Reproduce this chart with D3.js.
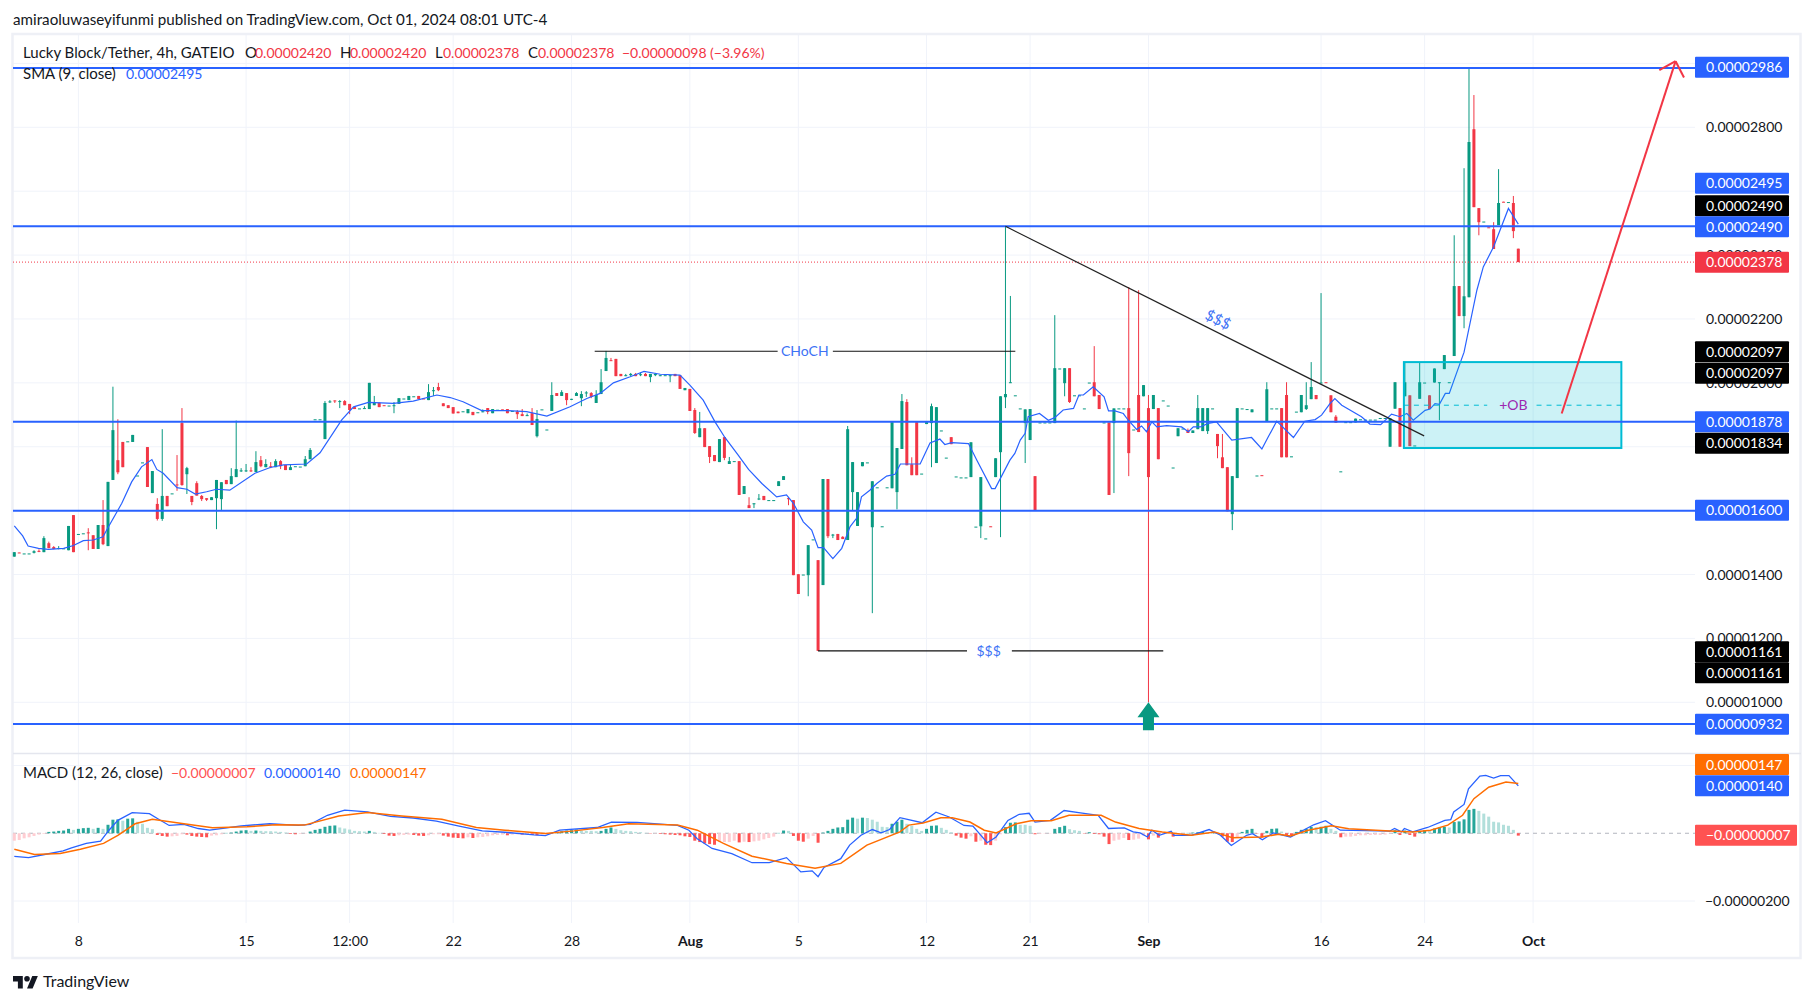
<!DOCTYPE html>
<html><head><meta charset="utf-8">
<script src="https://cdn.jsdelivr.net/npm/d3@7"></script>
<style>
html,body{margin:0;padding:0;background:#fff;overflow:hidden}
svg{display:block}
text{font-family:"Lato","Open Sans",sans-serif}
</style></head><body><svg id="c" width="1814" height="1003"></svg>
<script>
// ---- data: prices in units of 0.00000001, each row [open, high, low, close]
const barsJuly=[
[1456,1470,1456,1470],[1469,1469,1468,1468],[1466,1466,1466,1466],[1466,1466,1466,1466],[1468,1476,1466,1473],[1474,1479,1470,1471],[1470,1520,1470,1514],[1498,1503,1482,1483],[1486,1489,1479,1480],[1481,1489,1479,1483],
[1482,1482,1482,1482],[1476,1552,1476,1552],[1586,1586,1470,1470],[1527,1527,1527,1527],[1529,1529,1529,1529],[1532,1545,1476,1530],[1523,1523,1480,1480],[1480,1555,1480,1555],[1555,1633,1492,1495],[1489,1690,1489,1690],
[1696,1988,1696,1852],[1758,1886,1714,1720],[1815,1815,1736,1736],[1817,1817,1817,1817],[1815,1837,1815,1837],[1710,1710,1710,1710],[1751,1751,1751,1751],[1799,1799,1674,1674],[1655,1724,1655,1724],[1621,1639,1569,1574],
[1574,1855,1568,1646],[1646,1646,1614,1614],[1654,1654,1654,1654],[1682,1774,1662,1680],[1874,1921,1678,1680],[1714,1737,1652,1733],[1646,1646,1617,1627],[1686,1692,1647,1647],[1646,1649,1630,1636],[1639,1639,1630,1634],
[1633,1642,1633,1642],[1639,1696,1542,1696],[1636,1689,1602,1689],[1696,1696,1683,1683],[1683,1733,1683,1708],[1705,1882,1705,1730],[1724,1733,1721,1726],[1724,1746,1721,1726],[1726,1736,1721,1724],[1721,1786,1721,1752],
[1758,1771,1736,1739],[1736,1761,1736,1746],[1739,1752,1733,1737],[1736,1761,1736,1755],[1755,1758,1730,1739],[1743,1743,1727,1727],[1727,1746,1727,1736],[1739,1739,1739,1739],[1738,1738,1738,1738],[1739,1771,1739,1761],
[1761,1796,1761,1790],[1886,1886,1886,1886],[1886,1886,1886,1886],[1824,1943,1824,1937],[1940,1946,1937,1942],[1945,1945,1937,1943],[1941,1946,1921,1943],[1943,1946,1930,1930],[1934,1934,1902,1915],[1924,1927,1918,1918],
[1920,1920,1920,1920],[1919,1927,1919,1921],[1918,2000,1918,2000],[1930,1959,1930,1940],[1938,1938,1924,1924],[1930,1930,1929,1929],[1929,1929,1929,1929],[1928,1940,1905,1930],[1934,1952,1934,1952],[1951,1951,1951,1951],
[1946,1959,1946,1959],[1958,1958,1958,1958],[1959,1959,1949,1949],[1951,1951,1950,1950],[1946,1996,1946,1971],[1974,1987,1959,1977],[1987,2000,1974,1977],[1936,1936,1927,1927],[1930,1930,1921,1921],[1924,1924,1904,1904],
[1910,1910,1905,1905],[1911,1911,1911,1911],[1905,1918,1905,1918],[1909,1909,1899,1899],[1908,1908,1908,1908],[1908,1917,1908,1911],[1921,1921,1902,1909],[1905,1918,1905,1918],[1916,1916,1916,1916],[1917,1917,1916,1916],
[1918,1918,1905,1905],[1912,1912,1912,1912],[1910,1915,1887,1902],[1902,1918,1896,1896],[1896,1904,1896,1899],[1905,1921,1868,1868],[1833,1915,1829,1887],[1917,1917,1917,1917],[1854,1854,1854,1854],[1912,2002,1912,1962],
[1968,1968,1959,1959],[1959,1977,1959,1971],[1968,1968,1930,1946],[1950,1950,1946,1950],[1959,1971,1959,1968],[1952,1974,1927,1965],[1968,1974,1956,1970],[1968,1971,1952,1956],[1937,1977,1937,1962],[1965,2043,1965,2002],
[2037,2100,2037,2078],[2071,2078,2069,2069],[2075,2075,2021,2021],[2028,2028,2021,2021],[2021,2028,2021,2024],[2024,2031,2021,2028],[2028,2031,2021,2021],[2024,2033,2021,2027],[2028,2031,2021,2021],[2018,2028,2002,2028],
[2024,2031,2021,2028],[2021,2024,2021,2024],[2024,2024,2024,2024],[2021,2024,2002,2024],[2028,2028,2021,2021],[2024,2024,1981,1981],[1977,1984,1977,1984]];
const barsAugust=[
[1981,1981,1912,1912],[1915,1921,1840,1843],[1830,1909,1830,1858],[1858,1858,1799,1799],[1802,1802,1749,1768],[1774,1774,1755,1755],[1752,1824,1752,1824],[1830,1830,1758,1765],[1746,1768,1746,1755],[1755,1755,1755,1755],
[1755,1755,1649,1649],[1652,1677,1652,1677],[1617,1642,1608,1608],[1623,1623,1608,1623],[1635,1652,1633,1638],[1646,1646,1633,1633],[1633,1633,1633,1633],[1633,1633,1633,1633],[1677,1692,1677,1692],[1696,1708,1696,1708],
[1639,1642,1617,1636],[1633,1633,1398,1398],[1401,1401,1339,1339],[1400,1400,1400,1400],[1398,1492,1332,1492],[1510,1510,1510,1510],[1445,1445,1161,1161],[1367,1699,1367,1699],[1699,1699,1514,1520],[1522,1527,1514,1525],
[1527,1527,1508,1508],[1518,1520,1511,1511],[1508,1865,1508,1855],[1658,1752,1602,1752],[1552,1658,1552,1658],[1739,1752,1739,1752],[1751,1751,1751,1751],[1548,1692,1279,1692],[1673,1673,1673,1673],[1551,1551,1551,1551],
[1673,1673,1673,1673],[1670,1877,1670,1877],[1658,1796,1604,1796],[1793,1965,1793,1943],[1940,1949,1742,1742],[1745,1767,1711,1711],[1877,1877,1711,1711],[1716,1716,1716,1716],[1871,1877,1871,1877],[1874,1935,1736,1927],
[1749,1924,1749,1924],[1851,1851,1851,1851],[1766,1766,1766,1766],[1830,1830,1808,1808],[1707,1707,1707,1707],[1704,1704,1704,1704],[1704,1704,1704,1704],[1705,1814,1705,1814],[1550,1550,1550,1550],[1551,1705,1514,1705],
[1513,1513,1513,1513],[1551,1551,1550,1550],[1705,1764,1705,1764],[1783,1958,1517,1958],[1955,2490,1921,1965],[2000,2272,2000,2002],[1961,1961,1961,1961],[1920,1920,1920,1920],[1874,1917,1749,1917],[1821,1918,1821,1918],
[1708,1708,1599,1599],[1876,1876,1876,1876],[1876,1876,1876,1876],[1876,1876,1876,1876],[1874,2212,1874,2046],[2045,2045,2045,2045],[1999,2046,1958,2046],[2046,2046,1937,1940],[1961,1961,1961,1961],[1961,1961,1961,1961],
[1920,1920,1920,1920],[2001,2001,2001,2001],[2002,2115,1958,1958],[1962,1962,1918,1918],[1876,1876,1876,1876],[1876,1876,1649,1649],[1874,1920,1655,1920],[1920,1920,1920,1920],[1920,1920,1920,1920],[1921,2300,1708,1780],
[1854,1854,1854,1854],[1962,2290,1846,1846],[1958,1993,1958,1993]];
const barsSeptember=[
[1921,1962,1000,1705],[1918,1962,1918,1962],[1921,1921,1761,1761],[1945,1945,1945,1945],[1929,1929,1929,1929],[1735,1735,1735,1735],[1833,1858,1833,1858],[1857,1857,1857,1857],[1852,1857,1843,1843],[1843,1851,1843,1851],
[1855,1962,1855,1921],[1849,1921,1849,1921],[1849,1921,1840,1921],[1920,1920,1920,1920],[1840,1840,1764,1802],[1767,1840,1733,1733],[1736,1736,1598,1598],[1589,1708,1539,1708],[1702,1921,1702,1921],[1920,1920,1920,1920],
[1918,1918,1918,1918],[1908,1917,1908,1917],[1710,1710,1710,1710],[1711,1711,1710,1710],[1878,2002,1878,1980],[1920,1920,1920,1920],[1920,1920,1920,1920],[1921,1921,1767,1767],[1962,2002,1767,1767],[1770,1770,1770,1770],
[1910,1910,1910,1910],[1908,1962,1908,1962],[1918,2002,1915,1930],[1949,2065,1949,1987],[1962,1962,1949,1949],[1999,2281,1999,2001],[2002,2002,2001,2001],[1961,1961,1908,1908],[1894,1899,1875,1875],[1723,1723,1723,1723],
[1877,1877,1877,1877],[1877,1877,1877,1877],[1876,1888,1876,1888],[1886,1886,1886,1886],[1885,1885,1885,1885],[1885,1885,1885,1885],[1885,1885,1885,1885],[1890,1890,1890,1890],[1890,1890,1890,1890],[1800,1889,1800,1889],
[1919,2002,1919,2002],[1921,1921,1800,1800],[1958,2065,1958,2002],[1961,1961,1802,1802],[1804,1804,1804,1804],[1950,2065,1950,2002],[2001,2001,2001,2001],[1961,1961,1918,1918],[2001,2045,2001,2045],[2000,2002,1883,2002],
[2043,2087,2043,2087],[2002,2002,2002,2002],[2084,2462,2084,2303],[2303,2303,2209,2209],[2209,2672,2171,2271],[2268,2985,2268,2754],[2794,2901,2550,2550],[2547,2547,2462,2503],[2505,2505,2505,2505],[2487,2487,2486,2486],
[2481,2503,2419,2419],[2494,2669,2494,2563],[2567,2567,2566,2566],[2566,2566,2566,2566],[2563,2585,2453,2475],[2420,2420,2378,2378]];

// SMA(9): [bar position, value]
const smaJuly=[[0,1552],[1.7,1521],[2.8,1489],[4.9,1482],[6.9,1479],[10,1482],[12,1491],[14,1506],[16,1508],[18,1518],[18.9,1544],[21.8,1623],[23.8,1690],[25.8,1737],[27.9,1760],[28.9,1729],[30.2,1717],[33,1672],[35,1667],[36.7,1652],[39,1659],[41,1667],[43.7,1664],[48.8,1717],[51.9,1735],[54.6,1743],[59.3,1746],[62,1781],[66.4,1884],[68.8,1925],[71.8,1939],[76.9,1936],[80.9,1943],[85.7,1962],[88.4,1954],[91,1941],[94.8,1913],[99.9,1913],[103.9,1910],[108,1896],[112.7,1925],[116.1,1951],[118.8,1967],[121.5,2000],[124.9,2019],[127.7,2036],[131,2027],[135,2024]];
const smaAugust=[[137,1993],[139.7,1946],[142.1,1878],[144.1,1829],[146.8,1774],[148.9,1729],[151.6,1685],[154.6,1643],[156.6,1649],[158,1623],[160,1565],[161.7,1539],[163,1484],[164.1,1484],[166,1450],[167.8,1482],[169.5,1550],[170.8,1576],[171.8,1643],[173.5,1664],[174.9,1685],[176.9,1708],[178.6,1714],[179.7,1746],[183.7,1746],[185.7,1812],[187.7,1824],[188.7,1807],[190.1,1813],[193.5,1810],[195.2,1758],[198.2,1669],[198.9,1669],[201.9,1758],[202.9,1779],[204,1821],[205,1842],[205.6,1894],[207.9,1904],[209.7,1883],[211,1891],[212.7,1915],[214.8,1920],[215.9,1962],[216.8,1962],[218.8,1988],[221,1956],[221.9,1912],[223.2,1912],[224.9,1904],[225.9,1883],[227.6,1854],[228.6,1865]];
const smaSeptember=[[229.6,1847],[230.7,1878],[231.7,1862],[233.7,1866],[236.7,1862],[238.1,1847],[239.1,1862],[240.5,1862],[242.1,1873],[243.8,1878],[246.9,1821],[250.9,1829],[253,1793],[254.3,1831],[256,1880],[259.4,1829],[261.7,1880],[263.8,1885],[265.1,1899],[266.8,1935],[267.8,1951],[269.2,1930],[273.2,1894],[274.9,1871],[277.1,1869],[279.3,1902],[281,1894],[282.4,1904],[283.7,1883],[286.1,1914],[287.1,1918],[288.1,1935],[289,1933],[290.2,1967],[291,1967],[294,2096],[296.6,2290],[297.9,2363],[300,2426],[303,2546],[305,2497]];

// MACD line and signal line: [bar position, value]
const macdLine=[[0,-68],[2.9,-72],[6.4,-62],[9.9,-52],[11.6,-43],[14.6,-30],[17.5,-23],[19.2,9],[21,38],[23.9,61],[27.4,58],[29.1,43],[31.4,23],[34.4,26],[37.3,14],[39.6,9],[43.1,16],[46,22],[51.8,28],[57.6,23],[60,26],[63.5,53],[67,68],[71.6,63],[76.3,50],[80.9,45],[85.6,36],[90.2,21],[94.9,7],[99.5,3],[105.4,-5],[107.7,-7],[110.6,9],[118.2,17],[121.1,33],[126.3,32],[134.5,23],[136.8,9],[138.5,-16],[141.5,-45],[145.5,-60],[149.6,-87],[153.1,-87],[156.6,-72],[159.5,-114],[161.8,-111],[163,-128],[164.2,-101],[167.6,-75],[169.4,-35],[171.7,-6],[174,11],[175.8,1],[177.5,11],[179.6,46],[184.1,31],[186.9,62],[189.6,48],[192.6,23],[194.4,21],[197.3,-28],[199.1,-11],[201.5,38],[203.8,56],[205.8,59],[207,33],[210.1,38],[212.9,67],[216.2,60],[219.8,53],[221.9,14],[225.1,16],[226.9,4],[228.3,1],[229.8,-11],[230.7,9],[232.2,-6],[234.6,6],[235.2,-6],[238.7,-6],[242.3,11],[244.6,-6],[246.8,-36],[249.9,-6],[251.1,-1],[253.1,-19],[255.3,1],[258.8,-11],[263.5,25],[265.9,37],[268.9,9],[278.9,6],[279.9,14],[281.3,4],[281.9,14],[283.6,4],[286.6,17],[290.1,38],[291.3,40],[291.9,63],[294,85],[294.9,131],[297.2,169],[298.4,171],[300,163],[301.4,170],[303.1,170],[305,140]];
const signalLine=[[0,-47],[4.1,-63],[9.3,-60],[13.4,-47],[18.1,-30],[21,-6],[24.5,28],[28,41],[34.4,28],[40.2,16],[47.2,19],[53,25],[58.8,24],[65.8,51],[71.6,61],[78.6,51],[86.7,41],[93.7,17],[99.5,9],[107.7,-1],[113.5,7],[119.3,17],[124.6,28],[134.5,24],[138.5,9],[143.8,-30],[149.6,-68],[156.6,-89],[162.4,-103],[167.6,-89],[172.9,-35],[179.6,4],[181.4,24],[184.3,30],[187.9,46],[190.2,46],[193.8,33],[196.7,9],[199.1,1],[203.2,28],[206.2,37],[210.3,37],[213.9,53],[220.4,53],[223.3,33],[228.1,14],[232.8,4],[238.7,-6],[243.4,4],[247,-13],[252.9,-11],[256.4,-3],[258.8,-8],[262.4,9],[267.1,22],[270.6,13],[278.9,7],[283.6,4],[287.2,9],[290.7,24],[293.7,53],[296,102],[299,136],[302.5,151],[305,147]];

// MACD histogram, one value per bar
const histJuly=[-22,-20,-15,-12,-8,-4,-2,4,5,7,8,13,10,13,15,16,13,16,13,25,40,41,37,43,44,34,28,16,12,-5,-8,-10,-9,-8,-3,-4,-8,-10,-11,-12,-7,-6,-3,1,2,5,8,9,7,8,7,6,6,5,4,2,-2,-3,-2,-1,5,10,13,19,22,23,17,14,11,7,6,5,7,4,1,-2,-7,-8,-6,-5,-4,-5,-7,-8,-6,-3,-3,-7,-10,-13,-14,-15,-12,-14,-12,-11,-9,-6,-5,-4,-6,-4,-3,-4,-3,-5,-6,-4,-3,-1,2,6,8,9,11,8,7,7,6,7,13,17,13,9,7,6,4,3,1,-1,-1,-2,-3,-4,-5,-6,-9];
const histAugust=[-11,-22,-26,-30,-32,-34,-26,-26,-26,-22,-27,-25,-26,-24,-22,-18,-14,-10,1,8,7,-8,-22,-25,-16,-8,-28,2,7,13,17,18,40,46,43,46,45,40,34,19,18,28,34,40,28,22,13,7,13,22,23,16,10,3,-7,-13,-16,-9,-25,-22,-34,-35,-22,-3,18,31,32,25,25,22,-3,-2,-1,-1,13,18,22,12,9,7,-1,3,-2,-3,-10,-32,-22,-19,-14,-20,-19,-16,-7];
const histSeptember=[-18,-7,-13,-4,-2,-10,-3,-1,1,2,3,4,2,4,2,-10,-25,-26,-14,4,10,13,-1,-13,7,13,14,5,-5,-6,4,10,13,19,18,19,22,13,7,-12,-10,-10,-8,-6,-6,-5,-5,-5,-4,-1,9,-5,8,-5,-10,6,9,9,14,17,19,17,33,35,41,69,72,66,58,49,34,32,25,22,10,-7];

// axis ticks and level lines
const timeTickBars=[13,47,68,89,113,137,159,185,206,230,265,286,308];
const timeTickNames=["8","15","12:00","22","28","Aug","5","12","21","Sep","16","24","Oct"];
const boldTimeTicks=["Aug","Sep","Oct"];
const priceGrid=[3000,2800,2600,2400,2200,2000,1800,1600,1400,1200,1000];
const priceTickLabels=[2800,2400,2200,2000,1400,1200,1000];
const macdTicks=[200,0,-200];
const levelLines=[2986,2490,1878,1600,932];
const lastPrice=2378;
const legendValues={o:"0.00002420",h:"0.00002420",l:"0.00002378",c:"0.00002378",chg:"−0.00000098 (−3.96%)",sma:"0.00002495",hist:"−0.00000007",macd:"0.00000140",sig:"0.00000147"};
const priceTagTexts=["0.00002986","0.00002495","0.00002490","0.00002490","0.00002378","0.00002097","0.00002097","0.00001878","0.00001834","0.00001600","0.00001161","0.00001161","0.00000932"];
const priceTagKinds=["blue","blue","black","blue","red","black","black","blue","black","blue","black","black","blue"];
const macdTagTexts=["0.00000147","0.00000140","−0.00000007"];
const macdTagKinds=["orange","blue","hist"];

// ---- layout (not data)
const W=1814,H=1003,paneL=13,axisX=1695,labelR=1789;
const priceTagY=[67.3,183.3,205.7,226.7,262.3,351.7,373.3,421.7,443.3,510.3,651.7,672.7,724.3];
const macdTagY=[764.5,785.7,835.3];
const colors={up:"#089981",down:"#f23645",blue:"#2962ff",black:"#000",red:"#f23645",orange:"#ff6d00",hist:"#ff5252",grid:"#f0f3fa",frame:"#eef0f6",text:"#131722"};

const bars=barsJuly.concat(barsAugust,barsSeptember);
const hist=histJuly.concat(histAugust,histSeptember);
const sma=smaJuly.concat(smaAugust,smaSeptember);

const x=d3.scaleLinear().domain([0,305]).range([14.3,1518.3]);
const y=d3.scaleLinear().domain([2800,1000]).range([127.3,702.3]);
const ym=d3.scaleLinear().domain([200,-200]).range([765.5,901]);
const fmt=d=>(d/1e8).toFixed(8).replace("-","−");

const svg=d3.select("#c");
svg.append("rect").attr("width",W).attr("height",H).attr("fill","#fff");

// title
svg.append("text").attr("x",13).attr("y",25).attr("font-size",15.2).attr("fill",colors.text)
  .text("amiraoluwaseyifunmi published on TradingView.com, Oct 01, 2024 08:01 UTC-4");

// grids
const grid=svg.append("g").attr("stroke",colors.grid).attr("stroke-width",1);
grid.selectAll(".gx").data(timeTickBars).join("line").attr("x1",d=>x(d)).attr("x2",d=>x(d)).attr("y1",34).attr("y2",923);
grid.selectAll(".gy").data(priceGrid).join("line").attr("x1",paneL).attr("x2",axisX).attr("y1",d=>y(d)).attr("y2",d=>y(d));
grid.selectAll(".gm").data(macdTicks.filter(d=>d)).join("line").attr("x1",paneL).attr("x2",axisX).attr("y1",d=>ym(d)).attr("y2",d=>ym(d));

// frame
svg.append("rect").attr("x",12.5).attr("y",34).attr("width",1788).attr("height",924).attr("fill","none").attr("stroke",colors.frame).attr("stroke-width",2.5);
svg.append("line").attr("x1",13).attr("x2",1801).attr("y1",753.5).attr("y2",753.5).attr("stroke","#e4e6ee").attr("stroke-width",1.5);

// MACD pane
svg.append("line").attr("x1",paneL).attr("x2",axisX).attr("y1",ym(0)).attr("y2",ym(0)).attr("stroke","#b2b5be").attr("stroke-dasharray","4 4");
svg.append("g").selectAll("rect").data(hist).join("rect")
  .attr("x",(d,i)=>x(i)-1.5).attr("width",3)
  .attr("y",d=>Math.min(ym(d),ym(0))).attr("height",d=>Math.abs(ym(d)-ym(0)))
  .attr("fill",(d,i)=>{const p=i?hist[i-1]:d;return d>=0?(d>p?"#26a69a":"#b2dfdb"):(d<p?"#ff5252":"#ffcdd2");});
const lineM=d3.line().x(d=>x(d[0])).y(d=>ym(d[1]));
svg.append("path").attr("d",lineM(macdLine)).attr("fill","none").attr("stroke",colors.blue).attr("stroke-width",1.3);
svg.append("path").attr("d",lineM(signalLine)).attr("fill","none").attr("stroke",colors.orange).attr("stroke-width",1.5);

// candles
const gc=svg.append("g");
const col=d=>d[3]>=d[0]?colors.up:colors.down;
gc.selectAll(".w").data(bars).join("line")
  .attr("x1",(d,i)=>x(i)).attr("x2",(d,i)=>x(i)).attr("y1",d=>y(d[1])).attr("y2",d=>y(d[2]))
  .attr("stroke",col).attr("stroke-width",1);
gc.selectAll(".b").data(bars).join("rect")
  .attr("x",(d,i)=>x(i)-1.5).attr("width",3)
  .attr("y",d=>y(Math.max(d[0],d[3])))
  .attr("height",d=>Math.max(1,Math.abs(y(d[0])-y(d[3]))))
  .attr("fill",col);

// SMA
svg.append("path").attr("d",d3.line().x(d=>x(d[0])).y(d=>y(d[1]))(sma)).attr("fill","none").attr("stroke",colors.blue).attr("stroke-width",1.2);

// order block
const obLeft=281.8,obRight=325.9,obTop=2065,obBottom=1796,obMid=1930;
svg.append("rect").attr("x",x(obLeft)).attr("width",x(obRight)-x(obLeft)).attr("y",y(obTop)).attr("height",y(obBottom)-y(obTop))
  .attr("fill","rgba(0,188,212,0.2)").attr("stroke","#00bcd4").attr("stroke-width",2);
[[obLeft,298.7],[308.7,obRight]].forEach(s=>svg.append("line").attr("x1",x(s[0])).attr("x2",x(s[1])).attr("y1",y(obMid)).attr("y2",y(obMid))
  .attr("stroke","#00bcd4").attr("stroke-width",1).attr("stroke-dasharray","5 5"));
svg.append("text").attr("x",x(304)).attr("y",y(obMid)+5).attr("text-anchor","middle").attr("font-size",14).attr("fill","#9c27b0").text("+OB");

// level lines
svg.append("g").selectAll("line").data(levelLines).join("line").attr("x1",paneL).attr("x2",axisX).attr("y1",d=>y(d)).attr("y2",d=>y(d)).attr("stroke",colors.blue).attr("stroke-width",2);
svg.append("line").attr("x1",paneL).attr("x2",axisX).attr("y1",y(lastPrice)).attr("y2",y(lastPrice)).attr("stroke",colors.red).attr("stroke-width",1).attr("stroke-dasharray","1 2");

// trend line
const seg=(a,b,c,w)=>svg.append("line").attr("x1",x(a[0])).attr("y1",y(a[1])).attr("x2",x(b[0])).attr("y2",y(b[1])).attr("stroke",c).attr("stroke-width",w);
seg([201,2490],[285.9,1834],"#222",1.2);
seg([117.7,2099],[154.8,2099],"#111",1.2);
seg([166,2099],[203,2099],"#111",1.2);
seg([163,1161],[193.2,1161],"#111",1.2);
seg([202.3,1161],[233,1161],"#111",1.2);
const blueTxt=(bx,p,t,rot,fs)=>{const g=svg.append("text").attr("x",x(bx)).attr("y",y(p)+5).attr("text-anchor","middle").attr("font-size",fs||14).attr("fill","#3d72f5").text(t);if(rot)g.attr("transform",`rotate(${rot} ${x(bx)} ${y(p)})`);};
blueTxt(160.3,2099,"CHoCH");
blueTxt(197.6,1161,"$$$");
blueTxt(244.1,2197,"$$$",26.6,15);

// red forecast arrow
seg([313.8,1904],[336.9,3007],colors.red,2);
seg([333.6,2979],[336.9,3007],colors.red,2);
seg([338.6,2956],[336.9,3007],colors.red,2);

// green arrow marker at the wick low
const ax=x(230),ay=y(1000);
svg.append("path").attr("d",`M${ax} ${ay}l11 15h-5.5v13h-11v-13h-5.5z`).attr("fill",colors.up);

// axes
const ax1=d3.axisRight(y).tickValues(priceTickLabels).tickSize(0).tickPadding(0).tickFormat(fmt);
const gA=svg.append("g").attr("transform","translate(1706,0)").call(ax1);
const ax2=d3.axisRight(ym).tickValues([-200]).tickSize(0).tickPadding(0).tickFormat(fmt);
const gB=svg.append("g").attr("transform","translate(1706,0)").call(ax2);
const ax3=d3.axisBottom(x).tickValues(timeTickBars).tickSize(0).tickPadding(0).tickFormat((d,i)=>timeTickNames[i]);
const gC=svg.append("g").attr("transform","translate(0,936)").call(ax3);
[gA,gB,gC].forEach(g=>{g.select(".domain").remove();g.selectAll("text").attr("font-size",14).attr("font-family","Lato").attr("fill",colors.text);});
gB.selectAll("text").attr("x",-1);
gC.selectAll("text").attr("font-weight",d=>boldTimeTicks.includes(timeTickNames[timeTickBars.indexOf(d)])?700:400);

// price tags
const tag=(t,k,cy)=>{const isHist=k==="hist";
  svg.append("rect").attr("x",axisX).attr("y",cy-10.5).attr("width",isHist?102:94).attr("height",21).attr("rx",1).attr("fill",colors[k]);
  svg.append("text").attr("x",1706).attr("y",cy+5).attr("font-size",14).attr("fill","#fff").text(t);};
priceTagTexts.forEach((t,i)=>tag(t,priceTagKinds[i],priceTagY[i]));
macdTagTexts.forEach((t,i)=>tag(t,macdTagKinds[i],macdTagY[i]));

// legends: words a little larger than digits, as in the reference
const legend=(yy,parts)=>parts.forEach(p=>svg.append("text").attr("x",p[0]).attr("y",yy).attr("font-size",p[2]===colors.text?15:14).attr("fill",p[2]).text(p[1]));
const lr=colors.red;
legend(58,[[23,"Lucky Block/Tether, 4h, GATEIO",colors.text],[245,"O",colors.text],[255,legendValues.o,lr],[340,"H",colors.text],[350,legendValues.h,lr],[435,"L",colors.text],[443,legendValues.l,lr],[528,"C",colors.text],[538,legendValues.c,lr],[622,legendValues.chg,lr]]);
legend(79,[[23,"SMA (9, close)",colors.text],[126,legendValues.sma,colors.blue]]);
legend(778,[[23,"MACD (12, 26, close)",colors.text],[171,legendValues.hist,"#ff5252"],[264,legendValues.macd,colors.blue],[350,legendValues.sig,colors.orange]]);

// footer logo
const lg=svg.append("g").attr("transform","translate(13,976) scale(0.7)").attr("fill","#131722");
lg.append("path").attr("d","M14 18H7V8H0V0h14v18zM28 18h-8l7.5-18h8L28 18z");
lg.append("circle").attr("cx",20).attr("cy",4).attr("r",4);
svg.append("text").attr("x",43).attr("y",987).attr("font-size",16).attr("fill","#131722").text("TradingView");
</script></body></html>
